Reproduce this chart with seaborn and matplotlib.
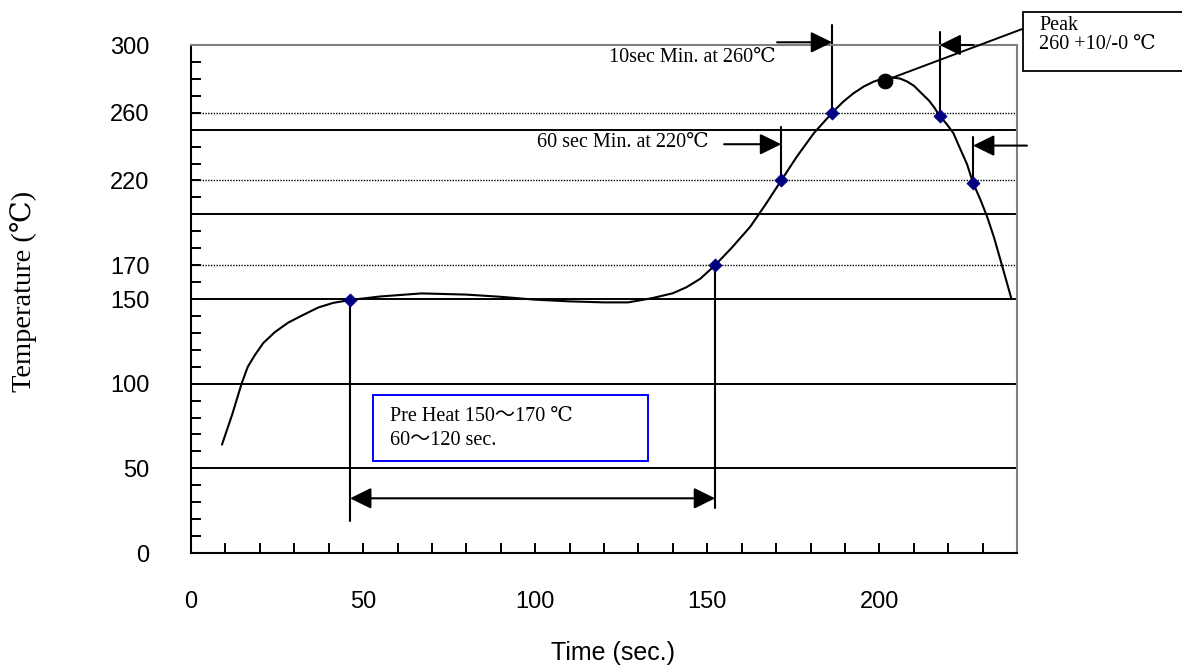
import matplotlib
matplotlib.use("Agg")
import matplotlib.pyplot as plt
from matplotlib.patches import Rectangle
import pandas as pd
import seaborn as sns

# ---------------- data ----------------
time_s = [9, 12, 14.7, 16.5, 18.6, 21, 24.4, 28.2, 32.6, 37, 41.3, 46.2, 55, 67, 80, 90,
          100, 110, 120, 127, 134, 140, 144, 148, 152.3, 157, 162.5, 167, 171.5, 176, 181,
          186.3, 189.5, 192.5, 195.5, 198.4, 201, 203.7, 206, 208, 210, 212, 214.5, 216,
          217.5, 219.5, 221.5, 223, 225.5, 227.2, 229.3, 231.3, 233.3, 235.2, 238.4]
temp_c = [64, 82, 100, 110, 117, 124, 130.5, 136, 140.6, 145, 147.7, 149.4, 151.5, 153.3,
          152.6, 151.3, 149.6, 148.6, 148, 148, 150.5, 153.4, 157, 162, 170, 180, 192.7,
          206, 220, 234, 248, 260, 266.5, 271.5, 275.5, 278.4, 280.2, 280.8, 280.2, 278.5,
          276, 272, 267, 263, 258.1, 253.5, 248, 241, 229.5, 218.7, 209, 198.7, 186.5,
          173, 150]

marker_time = [46.2, 152.3, 171.5, 186.3, 217.5, 227.2]
marker_temp = [149.4, 170, 220, 260, 258.1, 218.7]
guide_ends = [19.1, 26.6, 251.8, 311.9, 307.9, 245.9]

peak_time = [201.6]
peak_temp = [279.0]

x_tick_values = [0, 50, 100, 150, 200]
x_tick_labels = ["0", "50", "100", "150", "200"]
y_tick_values = [0, 50, 100, 150, 170, 220, 260, 300]
y_tick_labels = ["0", "50", "100", "150", "170", "220", "260", "300"]
solid_levels = [50, 100, 150, 200, 250]
dotted_levels = [170, 220, 260]

# ---------------- style ----------------
sns.set_theme(style="white")
plt.rcParams["font.family"] = ["Liberation Sans", "DejaVu Sans"]
serif = ["Liberation Serif", "DejaVu Serif", "Noto Sans CJK JP"]

fig = plt.figure(figsize=(11.82, 6.70), dpi=100)
ax = fig.add_axes([191 / 1182, 1 - 553 / 670, 826 / 1182, 508 / 670])
ax.set_xlim(0, 240)
ax.set_ylim(0, 300)

for lv in solid_levels:
    ax.axhline(lv, color="black", lw=1.4, zorder=1)
for lv in dotted_levels:
    ax.axhline(lv, color="black", lw=1.0, ls=(0, (1, 1.0)), zorder=1)

curve = pd.DataFrame({"Time": time_s, "Temp": temp_c})
sns.lineplot(data=curve, x="Time", y="Temp", sort=False, estimator=None,
             color="black", lw=1.5, ax=ax, zorder=3)

# guide lines
for xv, y0, y1 in zip(marker_time, marker_temp, guide_ends):
    ax.plot([xv, xv], [y0, y1], color="black", lw=1.5, clip_on=False, zorder=2)

marks = pd.DataFrame({"Time": marker_time, "Temp": marker_temp})
sns.scatterplot(data=marks, x="Time", y="Temp", marker="D", s=45, color="#000080",
                edgecolor="#000080", linewidth=0.5, ax=ax, zorder=5)
peak = pd.DataFrame({"Time": peak_time, "Temp": peak_temp})
sns.scatterplot(data=peak, x="Time", y="Temp", marker="o", s=110, color="black",
                edgecolor="black", ax=ax, zorder=6)

arrow_kw = dict(arrowstyle="-|>,head_length=0.65,head_width=0.32", color="black",
                lw=1.5, shrinkA=0, shrinkB=0, mutation_scale=20)
dbl_kw = dict(arrowstyle="<|-|>,head_length=0.65,head_width=0.32", color="black",
              lw=1.5, shrinkA=0, shrinkB=0, mutation_scale=20)

# pre-heat double arrow
ax.annotate("", xy=(marker_time[1], 32.3), xytext=(marker_time[0], 32.3),
            arrowprops=dbl_kw, annotation_clip=False)
# 60 sec arrow
ax.annotate("", xy=(marker_time[2], 241.4), xytext=(154.9, 241.4),
            arrowprops=arrow_kw, annotation_clip=False)
# 10 sec arrows
ax.annotate("", xy=(marker_time[3], 301.6), xytext=(170.3, 301.6),
            arrowprops=arrow_kw, annotation_clip=False)
ax.annotate("", xy=(marker_time[4], 300.0), xytext=(227.3, 300.0),
            arrowprops=arrow_kw, annotation_clip=False)
ax.annotate("", xy=(marker_time[5], 240.6), xytext=(242.9, 240.6),
            arrowprops=arrow_kw, annotation_clip=False)

# peak leader and box
ax.plot([peak_time[0], 241.6], [peak_temp[0], 309.5], color="black", lw=1.4,
        clip_on=False, zorder=4)
ax.add_patch(Rectangle((241.6, 284.7), 50, 34.9, fill=True, facecolor="white",
                       edgecolor="black", lw=1.3, clip_on=False, zorder=4))
ax.text(246.5, 311.3, "Peak", ha="left", va="center", fontsize=14.5, family=serif,
        color="black", zorder=5, clip_on=False)
ax.text(246.5, 300.1, "260 +10/-0 ℃", ha="left", va="center", fontsize=14.5,
        family=serif, color="black", zorder=5, clip_on=False)

ax.text(169.8, 292.4, "10sec Min. at 260℃", ha="right", va="center", fontsize=14.5,
        family=serif, color="black")
ax.text(150.3, 242.4, "60 sec Min. at 220℃", ha="right", va="center", fontsize=14.5,
        family=serif, color="black")

ax.add_patch(Rectangle((52.8, 54.5), 80.1, 38.8, facecolor="white",
                       edgecolor="#0000FF", lw=1.4, zorder=4))
ax.text(57.8, 80.5, "Pre Heat 150～170 ℃", ha="left", va="center", fontsize=14.5,
        family=serif, color="black", zorder=5)
ax.text(57.8, 66.7, "60～120 sec.", ha="left", va="center", fontsize=14.5,
        family=serif, color="black", zorder=5)

# ticks
ax.set_xticks(x_tick_values, labels=x_tick_labels)
ax.set_xticks(range(0, 241, 10), minor=True)
ax.set_yticks(y_tick_values, labels=y_tick_labels)
ax.set_yticks(range(0, 301, 10), minor=True)
ax.tick_params(axis="both", which="both", direction="in", length=7, width=1.4,
               color="black", bottom=True, left=True, top=False, right=False)
ax.tick_params(axis="y", which="major", pad=30, labelsize=17, labelcolor="black")
ax.tick_params(axis="x", which="major", pad=27, labelsize=17, labelcolor="black")

for s in ["left", "bottom"]:
    ax.spines[s].set_color("black")
    ax.spines[s].set_linewidth(1.5)
for s in ["top", "right"]:
    ax.spines[s].set_color("#808080")
    ax.spines[s].set_linewidth(1.5)

ax.set_xlabel("Time (sec.)", fontsize=18, color="black")
ax.xaxis.set_label_coords((613 - 191) / 826, -(653 - 553) / 508)
ax.xaxis.label.set_va("center")
ax.set_ylabel("Temperature (℃)", fontsize=20.5, color="black", family=serif)
ax.yaxis.set_label_coords((24 - 191) / 826, (553 - 291) / 508)
ax.yaxis.label.set_va("center")
ax.yaxis.label.set_ha("center")

fig.savefig("out.png", dpi=100, facecolor="white")
